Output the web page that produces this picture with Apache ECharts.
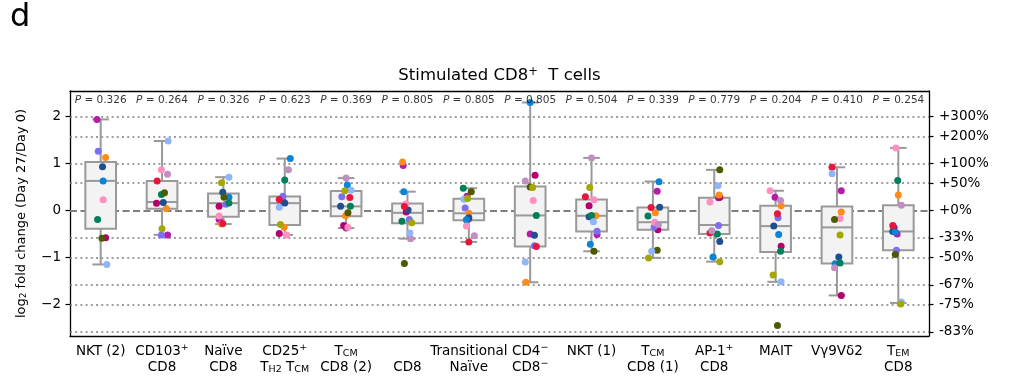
<!DOCTYPE html>
<html>
<head>
<meta charset="utf-8">
<script src="https://cdn.jsdelivr.net/npm/echarts@6/dist/echarts.min.js"></script>
<style>
  html, body { margin: 0; padding: 0; background: #fff; }
  #chart { width: 1011px; height: 377px; }
</style>
</head>
<body>
<div id="chart"></div>
<script>
// categories (rich markup for super/subscripts)
const categories = [
  'NKT (2)', 'CD103{sup|+}\nCD8', 'Naïve\nCD8', 'CD25{sup|+}\nT{sub|H2} T{sub|CM}',
  'T{sub|CM}\nCD8 (2)', '{n| }\nCD8', 'Transitional\nNaïve', 'CD4{sup|−}\nCD8{sup|−}',
  'NKT (1)', 'T{sub|CM}\nCD8 (1)', 'AP-1{sup|+}\nCD8', 'MAIT', 'Vγ9Vδ2', 'T{sub|EM}\nCD8'
]
const pValues = ['0.326', '0.264', '0.326', '0.623', '0.369', '0.805', '0.805', '0.805', '0.504', '0.339', '0.779', '0.204', '0.410', '0.254']

// box statistics (log2 fold change)
const whiskerLow = [-1.15, -0.52, -0.29, -0.52, -0.376, -0.6, -0.67, -1.53, -0.87, -1.01, -1.09, -1.52, -1.81, -1.97]
const q1 = [-0.39, 0.035, -0.135, -0.31, -0.125, -0.27, -0.21, -0.766, -0.447, -0.41, -0.5, -0.886, -1.13, -0.85]
const median = [0.63, 0.18, 0.156, 0.156, 0.087, -0.05, -0.06, -0.106, -0.113, -0.25, -0.31, -0.333, -0.36, -0.447]
const q3 = [1.035, 0.63, 0.36, 0.30, 0.415, 0.15, 0.25, 0.51, 0.234, 0.064, 0.27, 0.1, 0.085, 0.113]
const whiskerHigh = [1.94, 1.48, 0.71, 1.106, 0.69, 0.40, 0.475, 2.30, 1.12, 0.617, 0.865, 0.42, 0.92, 1.333]

// per-donor values and horizontal offsets (category units)
const magentaV = [1.94, -0.52, -0.19, 0.18, -0.376, 0.96, 0.305, -0.5, -0.51, 0.41, 0.27, 0.28, 0.42, -0.5]
const magentaDx = [-0.06, 0.09, -0.07, -0.02, 0.0, -0.07, -0.03, 0.0, 0.09, 0.07, 0.07, -0.01, 0.07, -0.02]
const raspberryV = [-0.58, 0.156, 0.09, -0.49, -0.32, -0.035, -0.18, 0.75, 0.1, -0.41, 0.28, -0.76, -1.81, -0.37]
const raspberryDx = [0.08, -0.09, -0.07, -0.09, -0.04, -0.02, -0.01, 0.08, -0.04, 0.08, 0.09, 0.09, 0.07, -0.07]
const periwinkleV = [1.26, -0.52, 0.135, 0.305, 0.29, -0.19, 0.05, -0.75, -0.44, -0.35, -0.32, -0.156, null, -0.85]
const periwinkleDx = [-0.04, -0.01, 0.04, -0.03, -0.07, 0.03, -0.06, 0.07, 0.09, 0.02, 0.07, 0.04, 0, -0.03]
const orangeV = [1.13, 0.04, -0.29, -0.36, -0.11, 1.03, -0.06, -1.53, -0.113, -0.05, 0.33, 0.1, -0.03, 0.33]
const orangeDx = [0.08, 0.07, -0.03, -0.01, -0.01, -0.08, 0, -0.07, 0.07, 0.04, 0.08, 0.09, 0.07, 0]
const navyV = [0.93, 0.17, 0.39, 0.16, 0.09, 0.01, -0.156, -0.53, -0.135, 0.07, -0.66, -0.333, -0.99, -0.447]
const navyDx = [0.03, 0.02, -0.01, 0, -0.09, 0.01, 0, 0.07, -0.04, 0.11, 0.09, -0.03, 0.03, -0.09]
const blueV = [0.63, null, 0.28, 1.106, 0.545, 0.40, -0.2, 2.30, -0.72, 0.61, -0.99, -0.51, -1.135, -0.46]
const blueDx = [0.04, 0, 0.09, 0.09, 0.02, -0.06, -0.04, 0, -0.02, 0.1, -0.02, 0.05, -0.03, -0.05]
const pinkV = [0.23, 0.865, -0.12, -0.52, -0.355, 0.14, -0.33, 0.21, 0.227, -0.25, 0.18, 0.42, -0.17, 1.333]
const pinkDx = [0.04, -0.01, -0.07, 0.03, 0.03, -0.03, -0.04, 0.05, 0.04, 0.03, -0.07, -0.09, 0.05, -0.04]
const greenV = [-0.19, 0.34, 0.16, 0.65, 0.09, -0.23, 0.475, -0.106, -0.106, -0.12, -0.5, -0.87, -1.12, 0.64]
const greenDx = [-0.05, -0.01, 0.09, 0, 0.07, -0.09, -0.09, 0.1, 0, -0.08, 0.05, 0.08, 0.05, -0.01]
const darkOliveV = [-0.59, 0.376, 0.28, null, -0.05, -1.13, 0.40, 0.50, -0.87, -0.85, 0.865, -2.45, -0.19, -0.936]
const darkOliveDx = [0.02, 0.04, 0.01, 0, 0.03, -0.05, 0.04, 0, 0.04, 0.07, 0.09, 0.03, -0.04, -0.05]
const crimsonV = [null, 0.63, -0.28, 0.234, 0.276, 0.085, -0.67, -0.77, 0.29, 0.064, -0.48, -0.07, 0.92, -0.32]
const crimsonDx = [0, -0.08, -0.01, -0.09, 0.06, -0.05, 0, 0.1, -0.1, -0.03, -0.07, 0.03, -0.08, -0.09]
const mauveV = [null, 0.77, null, 0.87, 0.69, -0.6, -0.54, 0.63, 1.12, -0.3, -0.43, 0.21, -1.22, 0.113]
const mauveDx = [0, 0.09, 0, 0.06, 0, 0.05, 0.09, -0.08, 0, 0.09, -0.04, 0.08, -0.04, 0.05]
const lightBlueV = [-1.15, 1.48, 0.71, 0.07, 0.43, -0.48, 0.24, -1.1, -0.24, -0.87, 0.525, -1.52, 0.78, -1.95]
const lightBlueDx = [0.1, 0.1, 0.09, -0.09, 0.08, 0.04, -0.08, -0.08, 0.03, -0.02, 0.06, 0.09, -0.08, 0.05]
const oliveV = [null, -0.39, 0.59, -0.30, 0.42, -0.26, 0.255, 0.49, 0.49, -1.01, -1.09, -1.376, -0.52, -1.99]
const oliveDx = [0, 0, -0.03, -0.07, -0.02, 0.07, -0.02, 0.04, -0.03, -0.07, 0.09, -0.04, 0.05, 0.04]

// tick positions
const leftTicks = [-2, -1, 0, 1, 2]
const foldTicks = [4, 3, 2, 1.5, 1, 2 / 3, 0.5, 1 / 3, 0.25, 1 / 6]
const foldLabels = ['+300%', '+200%', '+100%', '+50%', '+0%', '-33%', '-50%', '-67%', '-75%', '-83%']

const donors = [
  ['#b31daa', magentaV, magentaDx],
  ['#b4006e', raspberryV, raspberryDx],
  ['#7b6ff5', periwinkleV, periwinkleDx],
  ['#ff8c1a', orangeV, orangeDx],
  ['#1f4f8f', navyV, navyDx],
  ['#0a84d6', blueV, blueDx],
  ['#ff8fc0', pinkV, pinkDx],
  ['#00805a', greenV, greenDx],
  ['#4f5a00', darkOliveV, darkOliveDx],
  ['#e5173f', crimsonV, crimsonDx],
  ['#c08ec0', mauveV, mauveDx],
  ['#8fb5fa', lightBlueV, lightBlueDx],
  ['#a3a800', oliveV, oliveDx]
]

const FONT = 'DejaVu Sans'
const BOX_EDGE = '#999999'
const BOX_FILL = '#f3f3f3'
const GRID_COLOR = '#7f7f7f'
const rightValues = foldTicks.map(f => Math.log2(f))

const chart = echarts.init(document.getElementById('chart'))

function renderBox (params, api) {
  const x = api.value(0)
  const half = api.size([1, 0])[0] * 0.25
  const cap = half * 0.54
  const pLow = api.coord([x, api.value(1)])
  const cx = pLow[0]
  const yLow = pLow[1]
  const yQ1 = api.coord([x, api.value(2)])[1]
  const yMed = api.coord([x, api.value(3)])[1]
  const yQ3 = api.coord([x, api.value(4)])[1]
  const yHigh = api.coord([x, api.value(5)])[1]
  const st = { stroke: BOX_EDGE, lineWidth: 2, fill: null }
  return {
    type: 'group',
    children: [
      { type: 'line', shape: { x1: cx, y1: yQ3, x2: cx, y2: yHigh }, style: st },
      { type: 'line', shape: { x1: cx, y1: yQ1, x2: cx, y2: yLow }, style: st },
      { type: 'line', shape: { x1: cx - cap, y1: yHigh, x2: cx + cap, y2: yHigh }, style: st },
      { type: 'line', shape: { x1: cx - cap, y1: yLow, x2: cx + cap, y2: yLow }, style: st },
      { type: 'rect', shape: { x: cx - half, y: yQ3, width: half * 2, height: yQ1 - yQ3 }, style: { fill: BOX_FILL, stroke: BOX_EDGE, lineWidth: 2 } },
      { type: 'line', shape: { x1: cx - half, y1: yMed, x2: cx + half, y2: yMed }, style: st }
    ]
  }
}

const gridLines = rightValues.map(v => (Math.abs(v) < 1e-9
  ? { yAxis: 0, lineStyle: { type: [7, 3.5], width: 2, color: GRID_COLOR } }
  : { yAxis: v, lineStyle: { type: [2, 3.2], width: 1.6, color: GRID_COLOR } }))

const boxData = categories.map((c, i) => [i, whiskerLow[i], q1[i], median[i], q3[i], whiskerHigh[i]])

const scatterSeries = donors.map(([color, vals, dxs]) => ({
  type: 'scatter',
  xAxisIndex: 1,
  yAxisIndex: 0,
  symbolSize: 7,
  z: 5,
  silent: true,
  itemStyle: { color: color, opacity: 1 },
  data: vals.map((v, i) => (v === null ? null : [i + dxs[i], v])).filter(d => d)
}))

const option = {
  animation: false,
  textStyle: { fontFamily: FONT },
  grid: { left: 70, right: 82, top: 91, bottom: 41 },
  graphic: [
    { type: 'text', left: 10, top: 2, style: { text: 'd', fontSize: 32, fontFamily: FONT, fill: '#000' } },
    {
      type: 'text', x: 499.5, y: 76,
      style: {
        text: '{t|Stimulated CD8}{s|+}{t|  T cells}',
        align: 'center', verticalAlign: 'middle',
        rich: {
          t: { fontSize: 16.5, fontFamily: FONT, fill: '#000', lineHeight: 20 },
          s: { fontSize: 11.5, fontFamily: FONT, fill: '#000', verticalAlign: 'top', lineHeight: 12 }
        }
      }
    }
  ],
  xAxis: [
    {
      type: 'category',
      data: categories,
      position: 'bottom',
      axisLine: { onZero: false, lineStyle: { color: '#000', width: 1.3 } },
      axisTick: { alignWithLabel: true, length: 4.5, lineStyle: { color: '#000', width: 1.2 } },
      axisLabel: {
        interval: 0,
        margin: 7,
        color: '#000',
        fontSize: 13.5,
        fontFamily: FONT,
        lineHeight: 16,
        verticalAlign: 'top',
        rich: {
          n: { fontSize: 13.5, fontFamily: FONT, lineHeight: 16 },
          sup: { fontSize: 9.5, fontFamily: FONT, verticalAlign: 'top', lineHeight: 8 },
          sub: { fontSize: 9.5, fontFamily: FONT, verticalAlign: 'bottom', lineHeight: 10 }
        }
      },
      splitLine: { show: false }
    },
    {
      type: 'value',
      min: -0.5,
      max: 13.5,
      position: 'top',
      axisLine: { show: true, onZero: false, lineStyle: { color: '#000', width: 1.3 } },
      axisTick: { show: false },
      axisLabel: { show: false },
      splitLine: { show: false }
    }
  ],
  yAxis: [
    {
      type: 'value',
      min: -2.674,
      max: 2.545,
      position: 'left',
      name: 'log{sb|2} fold change (Day 27/Day 0)',
      nameLocation: 'middle',
      nameGap: 42,
      nameTextStyle: {
        fontSize: 13,
        fontFamily: FONT,
        color: '#000',
        rich: {
          sb: { fontSize: 9, fontFamily: FONT, verticalAlign: 'bottom', lineHeight: 10 }
        }
      },
      axisLine: { show: true, onZero: false, lineStyle: { color: '#000', width: 1.3 } },
      axisTick: { show: true, length: 4.5, customValues: leftTicks, lineStyle: { color: '#000', width: 1.2 } },
      axisLabel: {
        customValues: leftTicks,
        margin: 9,
        color: '#000',
        fontSize: 13.5,
        fontFamily: FONT,
        formatter: v => (v < 0 ? '\u2212' + Math.abs(v) : String(v))
      },
      splitLine: { show: false }
    },
    {
      type: 'value',
      min: -2.674,
      max: 2.545,
      position: 'right',
      axisLine: { show: true, onZero: false, lineStyle: { color: '#000', width: 1.3 } },
      axisTick: { show: true, length: 4.5, customValues: rightValues, lineStyle: { color: '#000', width: 1.2 } },
      axisLabel: {
        customValues: rightValues,
        margin: 10,
        color: '#000',
        fontSize: 13.5,
        fontFamily: FONT,
        formatter: v => {
          const k = rightValues.findIndex(r => Math.abs(r - v) < 1e-6)
          return k >= 0 ? foldLabels[k] : ''
        }
      },
      splitLine: { show: false }
    }
  ],
  series: [
    {
      type: 'line',
      xAxisIndex: 1,
      yAxisIndex: 0,
      data: [],
      z: 1,
      markLine: { silent: true, z: 1, symbol: 'none', label: { show: false }, animation: false, data: gridLines }
    },
    {
      type: 'custom',
      xAxisIndex: 1,
      yAxisIndex: 0,
      z: 3,
      silent: true,
      renderItem: renderBox,
      encode: { x: 0, y: [1, 2, 3, 4, 5] },
      data: boxData
    },
    ...scatterSeries,
    {
      type: 'scatter',
      xAxisIndex: 1,
      yAxisIndex: 0,
      symbolSize: 1,
      z: 6,
      silent: true,
      itemStyle: { color: 'rgba(0,0,0,0)' },
      label: {
        show: true,
        position: 'inside',
        color: '#000',
        fontSize: 10.5,
        fontFamily: FONT,
        formatter: p => '{i|P} = ' + pValues[p.dataIndex],
        rich: { i: { fontStyle: 'italic', fontSize: 10.5, fontFamily: FONT, color: '#000' } }
      },
      data: pValues.map((p, i) => [i, 2.347])
    }
  ]
}

chart.setOption(option)
</script>
</body>
</html>
